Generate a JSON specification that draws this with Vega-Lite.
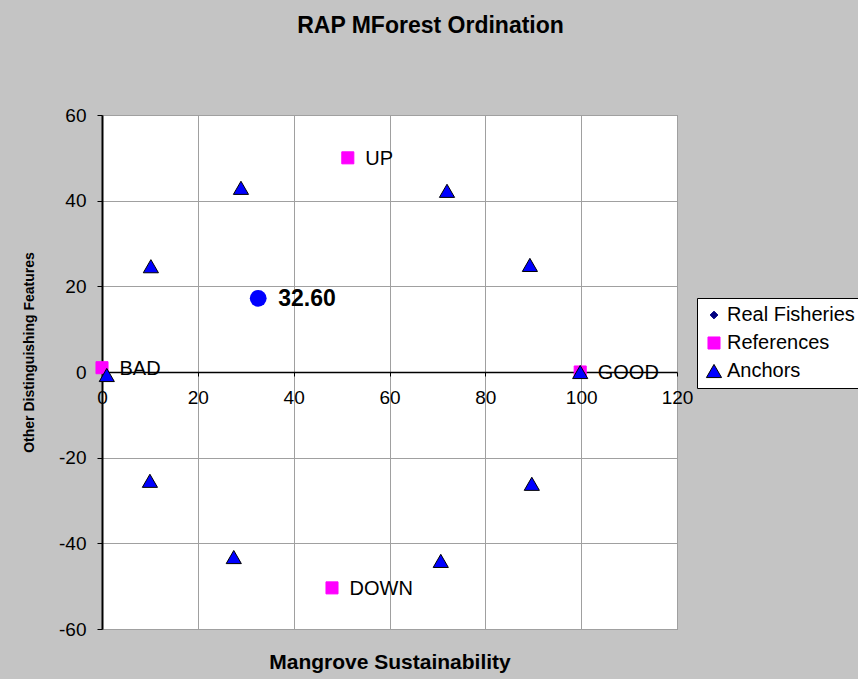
{
  "$schema": "https://vega.github.io/schema/vega-lite/v6.json",
  "width": 575,
  "height": 514,
  "autosize": {"type": "none"},
  "padding": {"left": 102, "top": 115, "right": 181, "bottom": 50},
  "background": "#c4c4c4",
  "title": {"text": "RAP MForest Ordination", "font": "Liberation Sans", "fontSize": 23, "fontWeight": "bold", "color": "black", "anchor": "middle", "frame": "group", "dx": 41, "offset": 68},
  "config": {
    "view": {"fill": "white", "stroke": "#808080", "strokeWidth": 1},
    "axis": {"labelFont": "Liberation Sans", "labelFontSize": 19, "labelColor": "black", "labelFlush": false, "labelExpr": "replace(datum.label, '−', '-')", "titleFont": "Liberation Sans", "titleColor": "black", "gridColor": "#a0a0a0", "gridWidth": 1, "domainColor": "black", "tickColor": "black"},
    "legend": {"labelFont": "Liberation Sans", "labelFontSize": 20, "labelColor": "black", "fillColor": "white", "strokeColor": "black", "padding": 7, "rowPadding": 8, "labelOffset": 3, "symbolStrokeWidth": 1, "symbolOpacity": 1}
  },
  "data": {"values": [
    {"series": "References", "x": 0, "y": 1, "label": "BAD"},
    {"series": "References", "x": 99.8, "y": 0, "label": "GOOD"},
    {"series": "References", "x": 51.3, "y": 50, "label": "UP"},
    {"series": "References", "x": 48, "y": -50.4, "label": "DOWN"},
    {"series": "Anchors", "x": 1, "y": -0.7, "label": ""},
    {"series": "Anchors", "x": 99.8, "y": 0, "label": ""},
    {"series": "Anchors", "x": 29, "y": 43, "label": ""},
    {"series": "Anchors", "x": 72, "y": 42.3, "label": ""},
    {"series": "Anchors", "x": 10.2, "y": 24.7, "label": ""},
    {"series": "Anchors", "x": 89.3, "y": 25, "label": ""},
    {"series": "Anchors", "x": 10, "y": -25.4, "label": ""},
    {"series": "Anchors", "x": 89.7, "y": -26.1, "label": ""},
    {"series": "Anchors", "x": 27.5, "y": -43.2, "label": ""},
    {"series": "Anchors", "x": 70.7, "y": -44.1, "label": ""},
    {"series": "Real Fisheries", "x": 32.6, "y": 17.2, "label": "32.60"}
  ]},
  "layer": [
    {
      "transform": [{"filter": "datum.series !== 'Real Fisheries'"}],
      "mark": {"type": "point", "filled": true, "opacity": 1, "strokeWidth": 1},
      "encoding": {
        "x": {"field": "x", "type": "quantitative", "scale": {"domain": [0, 120], "nice": false, "zero": false},
          "axis": {"values": [0, 20, 40, 60, 80, 100, 120], "offset": -257, "title": "Mangrove Sustainability", "titleFontSize": 21, "titleFontWeight": "bold", "titleY": 290, "titleBaseline": "middle", "tickSize": 4, "labelPadding": 12, "domainWidth": 1.5, "grid": true}},
        "y": {"field": "y", "type": "quantitative", "scale": {"domain": [-60, 60], "nice": false},
          "axis": {"values": [-60, -40, -20, 0, 20, 40, 60], "title": "Other Distinguishing Features", "titleFontSize": 14, "titleFontWeight": "bold", "titleX": -73, "titleY": 237, "titleBaseline": "middle", "tickSize": 5, "labelPadding": 11, "domainWidth": 2, "grid": true}},
        "color": {"field": "series", "type": "nominal", "scale": {"domain": ["Real Fisheries", "References", "Anchors"], "range": ["#000080", "#ff00ff", "#0000ff"]},
          "legend": {"title": null, "orient": "none", "legendX": 595, "legendY": 183}},
        "shape": {"field": "series", "type": "nominal", "scale": {"domain": ["Real Fisheries", "References", "Anchors"], "range": ["diamond", "square", "triangle-up"]},
          "legend": {"title": null, "orient": "none", "legendX": 595, "legendY": 183}},
        "size": {"field": "series", "type": "nominal", "scale": {"domain": ["Real Fisheries", "References", "Anchors"], "range": [60, 230, 200]},
          "legend": {"title": null, "orient": "none", "legendX": 595, "legendY": 183}},
        "stroke": {"field": "series", "type": "nominal", "scale": {"domain": ["Real Fisheries", "References", "Anchors"], "range": ["#000080", "#ff00ff", "black"]},
          "legend": {"title": null, "orient": "none", "legendX": 595, "legendY": 183}}
      }
    },
    {
      "transform": [{"filter": "datum.series === 'Real Fisheries'"}],
      "mark": {"type": "point", "filled": true, "shape": "circle", "size": 283, "color": "#0000ff", "opacity": 1},
      "encoding": {
        "x": {"field": "x", "type": "quantitative"},
        "y": {"field": "y", "type": "quantitative"}
      }
    },
    {
      "transform": [{"filter": "datum.series === 'References'"}],
      "mark": {"type": "text", "align": "left", "baseline": "middle", "dx": 17.5, "dy": 1, "font": "Liberation Sans", "fontSize": 20, "color": "black"},
      "encoding": {
        "x": {"field": "x", "type": "quantitative"},
        "y": {"field": "y", "type": "quantitative"},
        "text": {"field": "label"}
      }
    },
    {
      "transform": [{"filter": "datum.series === 'Real Fisheries'"}],
      "mark": {"type": "text", "align": "left", "baseline": "middle", "dx": 20, "dy": 1, "font": "Liberation Sans", "fontSize": 23, "fontWeight": "bold", "color": "black"},
      "encoding": {
        "x": {"field": "x", "type": "quantitative"},
        "y": {"field": "y", "type": "quantitative"},
        "text": {"field": "label"}
      }
    }
  ]
}
